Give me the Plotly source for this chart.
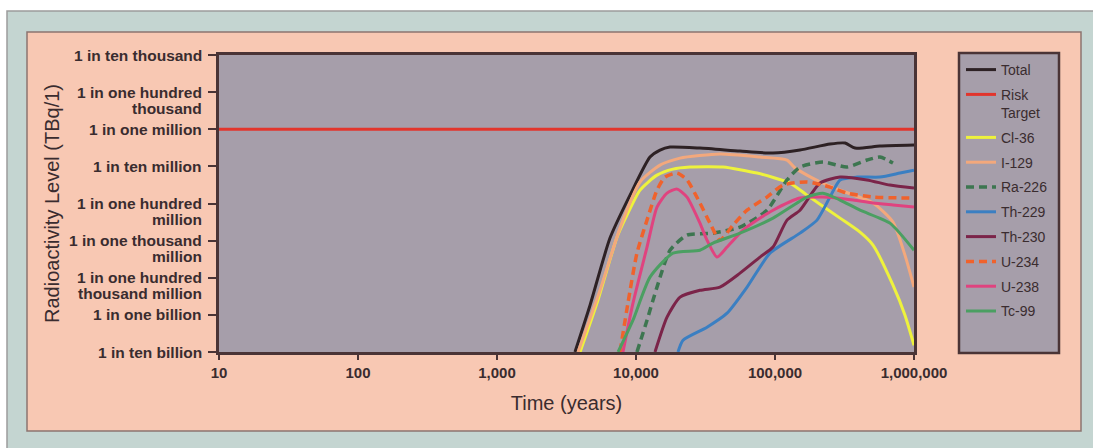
import math
import plotly.graph_objects as go

# ---- data: years after closure vs. radioactivity level ----
total_years = [3640, 4670, 6500, 9060, 12610, 14890, 17570, 28840, 55990, 96800,
               151300, 248700, 319300, 376500, 569000, 1000000]
total_level = [1e-12, 1.82e-11, 1.17e-9, 1.68e-8, 1.78e-7, 2.75e-7, 3.31e-7, 3.11e-7,
               2.58e-7, 2.28e-7, 2.75e-7, 3.99e-7, 4.25e-7, 3.11e-7, 3.52e-7, 3.75e-7]

risk_years = [10, 1000000]
risk_level = [1e-6, 1e-6]

cl36_years = [3960, 5240, 7300, 8610, 10690, 14160, 18450, 24450, 42270, 74300,
              128200, 169800, 293800, 409000, 507000, 706000, 861000, 1000000]
cl36_level = [1e-12, 2.07e-11, 1.24e-9, 4.87e-9, 2.3e-8, 5.8e-8, 8.45e-8, 9.6e-8, 9.6e-8,
              6.6e-8, 3.55e-8, 1.68e-8, 4.04e-9, 1.69e-9, 7.6e-10, 6.3e-11, 9.8e-12, 1.52e-12]

i129_years = [3830, 5510, 7670, 10690, 14890, 20750, 40180, 78000, 122000, 139300,
              210800, 293800, 507000, 706000, 861000, 1000000]
i129_level = [1e-12, 4.6e-11, 2.17e-9, 3.8e-8, 1.08e-7, 1.67e-7, 2.15e-7, 1.78e-7, 1.48e-7,
              9.0e-8, 3.8e-8, 2.3e-8, 1.03e-8, 3.15e-9, 4.06e-10, 5.6e-11]

ra226_years = [10160, 12000, 14160, 17570, 23280, 35800, 55990, 87500, 122000, 151300,
               221300, 329900, 459000, 569000, 706000]
ra226_level = [1e-12, 7.2e-12, 5.6e-11, 5.5e-10, 1.41e-9, 1.59e-9, 2.31e-9, 6.6e-9, 4.3e-8,
               9.6e-8, 1.31e-7, 9.6e-8, 1.48e-7, 1.78e-7, 1.23e-7]

th229_years = [20050, 21790, 32430, 45190, 62950, 92000, 151300, 200500, 248700, 293800,
               389000, 569000, 793000, 1000000]
th229_level = [1e-12, 2.08e-12, 4.66e-12, 1.11e-11, 5.6e-11, 4.6e-10, 1.59e-9, 3.57e-9,
               1.49e-8, 4.3e-8, 5.15e-8, 5.15e-8, 6.6e-8, 7.9e-8]

th230_years = [13700, 16720, 20750, 28840, 40180, 55990, 78000, 96800, 122000, 151300,
               210800, 293800, 459000, 671000, 1000000]
th230_level = [1e-12, 8.7e-12, 3.0e-11, 4.6e-11, 5.6e-11, 1.33e-10, 3.6e-10, 6.7e-10, 3.57e-9,
               6.6e-9, 3.55e-8, 5.15e-8, 4.3e-8, 3.13e-8, 2.6e-8]

u234_years = [7670, 8750, 10160, 12000, 14160, 16180, 19730, 23280, 28840, 34060, 40180,
              49890, 62950, 87500, 114200, 169800, 248700, 329900, 507000, 1000000]
u234_level = [1e-12, 2.07e-11, 4.6e-10, 3.57e-9, 2.3e-8, 5.15e-8, 6.6e-8, 4.3e-8, 1.03e-8,
              2.96e-9, 1.03e-9, 2.62e-9, 6.6e-9, 1.49e-8, 3.13e-8, 3.8e-8, 2.77e-8, 1.9e-8,
              1.49e-8, 1.4e-8]

u238_years = [8060, 9510, 12000, 14160, 16720, 19730, 23280, 28840, 32430, 38280, 45190,
              58880, 74300, 96800, 151300, 221300, 364200, 507000, 706000, 1000000]
u238_level = [1e-12, 2.07e-11, 6.7e-10, 8.0e-9, 1.9e-8, 2.44e-8, 1.49e-8, 2.96e-9, 1.03e-9,
              3.6e-10, 6.7e-10, 1.92e-9, 3.57e-9, 6.6e-9, 1.4e-8, 1.49e-8, 1.24e-8, 1.03e-8,
              9.1e-9, 8.0e-9]

tc99_years = [7430, 9510, 12610, 18450, 28840, 35800, 55990, 96800, 169800, 221300,
              293800, 409000, 671000, 1000000]
tc99_level = [1e-12, 7.2e-12, 1.04e-10, 4.6e-10, 5.5e-10, 8.6e-10, 1.59e-9, 4.04e-9, 1.49e-8,
              1.9e-8, 1.24e-8, 6.6e-9, 2.96e-9, 5.5e-10]

x_tick_vals = [10, 100, 1000, 10000, 100000, 1000000]
x_tick_text = ["10", "100", "1,000", "10,000", "100,000", "1,000,000"]

y_tick_vals = [1e-4, 1e-5, 1e-6, 1e-7, 1e-8, 1e-9, 1e-10, 1e-11, 1e-12]
y_tick_text = ["1 in ten thousand", "1 in one hundred<br>thousand", "1 in one million",
               "1 in ten million", "1 in one hundred<br>million",
               "1 in one thousand<br>million", "1 in one hundred<br>thousand million",
               "1 in one billion", "1 in ten billion"]

# ---- layout geometry (pixels) ----
W, H = 1093, 448
ML, MR, MT, MB = 219, 179, 55, 96
PW, PH = W - ML - MR, H - MT - MB

def px_x(px):
    return (px - ML) / PW

def px_y(py):
    return (H - MB - py) / PH

FONT = "Liberation Sans, Arial, sans-serif"
TEXT = "#3a2c2f"
FRAME = "#4a3436"
PLOT_BG = "#a69eaa"
SALMON = "#f8c8b3"
PANEL = "#c4d5d1"

series = [
    ("Total", total_years, total_level, "#2d2124", "solid", 3),
    ("Risk<br>Target", risk_years, risk_level, "#e2352c", "solid", 3),
    ("Cl-36", cl36_years, cl36_level, "#eef23c", "solid", 3),
    ("I-129", i129_years, i129_level, "#f3a87c", "solid", 3),
    ("Ra-226", ra226_years, ra226_level, "#3d7650", "8px,5px", 3.5),
    ("Th-229", th229_years, th229_level, "#3b7fc2", "solid", 3),
    ("Th-230", th230_years, th230_level, "#7b2449", "solid", 3),
    ("U-234", u234_years, u234_level, "#f0622c", "8px,5px", 3.5),
    ("U-238", u238_years, u238_level, "#e0437f", "solid", 3),
    ("Tc-99", tc99_years, tc99_level, "#4b9f62", "solid", 3),
]

fig = go.Figure()
for name, xs, ys, color, dash, width in series:
    fig.add_trace(go.Scatter(
        x=xs, y=ys, mode="lines", name=name, legendgroup=name,
        line=dict(color=color, width=width, dash=dash,
                  shape="linear" if len(xs) == 2 else "spline", smoothing=0.6),
    ))

shapes = [
    # outer panel
    dict(type="rect", xref="paper", yref="paper", layer="below",
         x0=px_x(7), x1=px_x(W + 10), y0=px_y(H + 10), y1=px_y(11),
         fillcolor=PANEL, line=dict(color="#9c9c9c", width=1.5)),
    # salmon chart card
    dict(type="rect", xref="paper", yref="paper", layer="below",
         x0=px_x(27), x1=px_x(1081), y0=px_y(431), y1=px_y(32),
         fillcolor=SALMON, line=dict(color="#8c7470", width=1.5)),
    # plotting area
    dict(type="rect", xref="x domain", yref="y domain", layer="below",
         x0=0, x1=1, y0=0, y1=1, fillcolor=PLOT_BG, line=dict(width=0)),
    # legend frame
    dict(type="rect", xref="paper", yref="paper", layer="below",
         x0=px_x(959), x1=px_x(1059), y0=px_y(353), y1=px_y(53),
         fillcolor=PLOT_BG, line=dict(color=FRAME, width=2.5)),
]

annotations = []
for val, label in zip(y_tick_vals, y_tick_text):
    for i, line in enumerate(label.split("<br>")):
        annotations.append(dict(
            xref="paper", yref="y", x=px_x(204), y=math.log10(val),
            xanchor="right", yanchor="middle", yshift=-16 * i, showarrow=False,
            text=line, font=dict(family=FONT, size=15.5, color=TEXT, weight="bold"),
        ))
annotations.append(dict(
    xref="paper", yref="paper", x=px_x(52), y=px_y(204), textangle=-90,
    xanchor="center", yanchor="middle", showarrow=False,
    text="Radioactivity Level (TBq/1)",
    font=dict(family=FONT, size=20, color=TEXT),
))

fig.update_layout(
    width=W, height=H,
    margin=dict(l=ML, r=MR, t=MT, b=MB),
    paper_bgcolor="white",
    plot_bgcolor="rgba(0,0,0,0)",
    shapes=shapes,
    annotations=annotations,
    showlegend=True,
    legend=dict(
        x=px_x(961), y=px_y(54), xanchor="left", yanchor="top",
        bgcolor="rgba(0,0,0,0)", borderwidth=0, valign="top",
        tracegroupgap=3.6, itemwidth=30, maxheight=420,
        font=dict(family=FONT, size=14, color=TEXT),
    ),
    xaxis=dict(
        type="log", range=[1, 6], tickvals=x_tick_vals, ticktext=x_tick_text,
        ticks="outside", ticklen=5, tickcolor=FRAME, tickwidth=1.5,
        showgrid=False, zeroline=False,
        showline=True, linecolor=FRAME, linewidth=3, mirror=True,
        tickfont=dict(family=FONT, size=15, color=TEXT, weight="bold"),
        title=dict(text="Time (years)", standoff=16,
                   font=dict(family=FONT, size=20, color=TEXT)),
    ),
    yaxis=dict(
        type="log", range=[-12, -4], tickvals=y_tick_vals, showticklabels=False,
        ticks="outside", ticklen=8, tickcolor=FRAME, tickwidth=1.5,
        showgrid=False, zeroline=False,
        showline=True, linecolor=FRAME, linewidth=3, mirror=True,
    ),
)

fig.write_html("out.html")
